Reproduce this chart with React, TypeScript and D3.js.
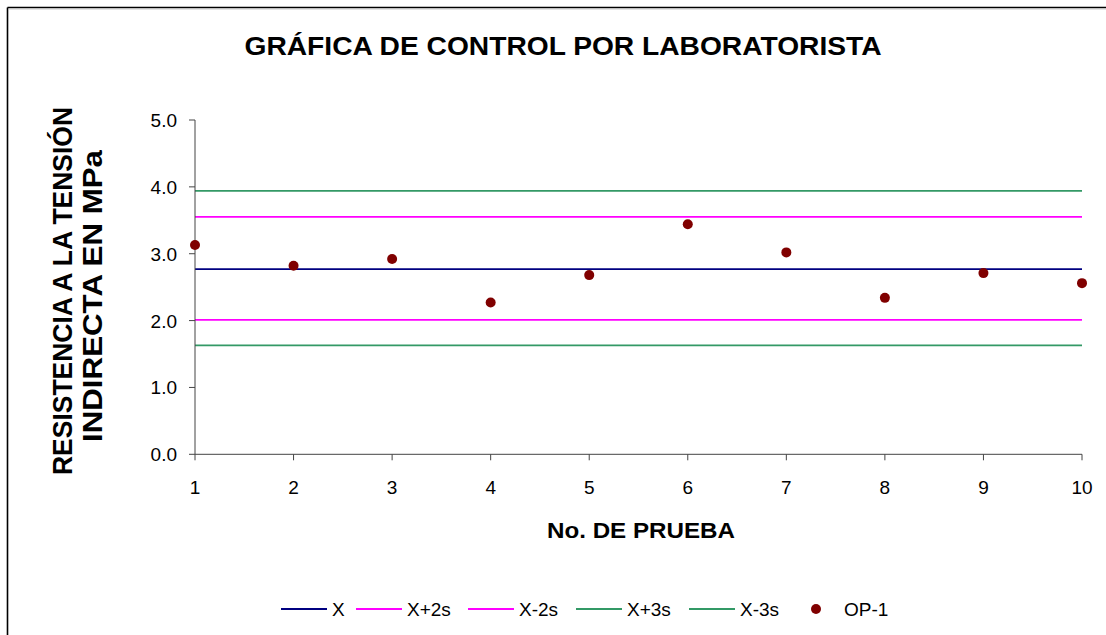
import React from "react";
import * as d3 from "d3";

const tests = [1, 2, 3, 4, 5, 6, 7, 8, 9, 10];
const op1 = [3.13, 2.82, 2.92, 2.27, 2.68, 3.44, 3.02, 2.34, 2.71, 2.56];
const meanX = 2.77;
const plus2s = 3.55;
const minus2s = 2.01;
const plus3s = 3.94;
const minus3s = 1.63;
const yTicks = [0, 1, 2, 3, 4, 5];

const controlSeries = [
  { name: "X", value: meanX, color: "#000080" },
  { name: "X+2s", value: plus2s, color: "#FF00FF" },
  { name: "X-2s", value: minus2s, color: "#FF00FF" },
  { name: "X+3s", value: plus3s, color: "#339966" },
  { name: "X-3s", value: minus3s, color: "#339966" },
];

const legendX = [281, 356, 468, 576, 689];

export default function App() {
  const W = 1106;
  const H = 635;
  const x = d3.scaleLinear().domain([1, 10]).range([195, 1082]);
  const y = d3.scaleLinear().domain([0, 5]).range([454.3, 120]);
  const font = "Liberation Sans, Arial, sans-serif";
  const lineGen = d3
    .line<number>()
    .x((d) => x(d))
    .y(() => 0);
  const legendY = 609;

  return (
    <svg
      width={W}
      height={H}
      style={{ position: "absolute", left: 0, top: 0, background: "#fff" }}
      fontFamily={font}
    >
      <rect x={0} y={0} width={W} height={H} fill="#fff" />
      {/* outer border */}
      <line x1={7.5} y1={7.5} x2={W} y2={7.5} stroke="#000" strokeWidth={1.6} />
      <line x1={7.5} y1={7.5} x2={7.5} y2={H} stroke="#000" strokeWidth={1.6} />
      <line x1={9} y1={9} x2={W} y2={9} stroke="#bbb" strokeWidth={0.8} />

      {/* title */}
      <text
        x={563}
        y={55}
        textAnchor="middle"
        fontSize={26}
        fontWeight="bold"
        textLength={637}
        lengthAdjust="spacingAndGlyphs"
      >
        GRÁFICA DE CONTROL POR LABORATORISTA
      </text>

      {/* control lines */}
      {controlSeries.map((s) => (
        <path
          key={s.name}
          d={lineGen([tests[0], tests[tests.length - 1]]) || ""}
          transform={`translate(0,${y(s.value)})`}
          stroke={s.color}
          strokeWidth={1.8}
          fill="none"
        />
      ))}

      {/* axes */}
      <line x1={x(1)} y1={y(0)} x2={x(1)} y2={y(5)} stroke="#444" strokeWidth={1} />
      <line x1={x(1)} y1={y(0)} x2={x(10)} y2={y(0)} stroke="#444" strokeWidth={1} />
      {yTicks.map((t) => (
        <g key={t}>
          <line x1={x(1) - 6} x2={x(1)} y1={y(t)} y2={y(t)} stroke="#444" />
          <text x={177} y={y(t) + 7} textAnchor="end" fontSize={19}>
            {d3.format(".1f")(t)}
          </text>
        </g>
      ))}
      {tests.map((t) => (
        <g key={t}>
          <line x1={x(t)} x2={x(t)} y1={y(0)} y2={y(0) + 6} stroke="#444" />
          <text x={x(t)} y={493.5} textAnchor="middle" fontSize={19}>
            {t}
          </text>
        </g>
      ))}

      {/* points */}
      {op1.map((v, i) => (
        <circle key={i} cx={x(tests[i])} cy={y(v)} r={5} fill="#800000" />
      ))}

      {/* axis titles */}
      <text x={641} y={538} textAnchor="middle" fontSize={22} fontWeight="bold" textLength={188} lengthAdjust="spacingAndGlyphs">
        No. DE PRUEBA
      </text>
      <text
        transform="translate(72,291) rotate(-90)"
        textAnchor="middle"
        fontSize={28}
        fontWeight="bold"
        textLength={368}
        lengthAdjust="spacingAndGlyphs"
      >
        RESISTENCIA A LA TENSIÓN
      </text>
      <text
        transform="translate(102,296) rotate(-90)"
        textAnchor="middle"
        fontSize={28}
        fontWeight="bold"
        textLength={292}
        lengthAdjust="spacingAndGlyphs"
      >
        INDIRECTA EN MPa
      </text>

      {/* legend */}
      {controlSeries.map((s, i) => (
        <g key={s.name}>
          <line
            x1={legendX[i]}
            x2={legendX[i] + 46}
            y1={legendY}
            y2={legendY}
            stroke={s.color}
            strokeWidth={1.8}
          />
          <text x={legendX[i] + 51} y={legendY + 7} fontSize={19}>
            {s.name}
          </text>
        </g>
      ))}
      <circle cx={816} cy={legendY} r={5} fill="#800000" />
      <text x={844} y={legendY + 7} fontSize={19}>
        OP-1
      </text>
    </svg>
  );
}
